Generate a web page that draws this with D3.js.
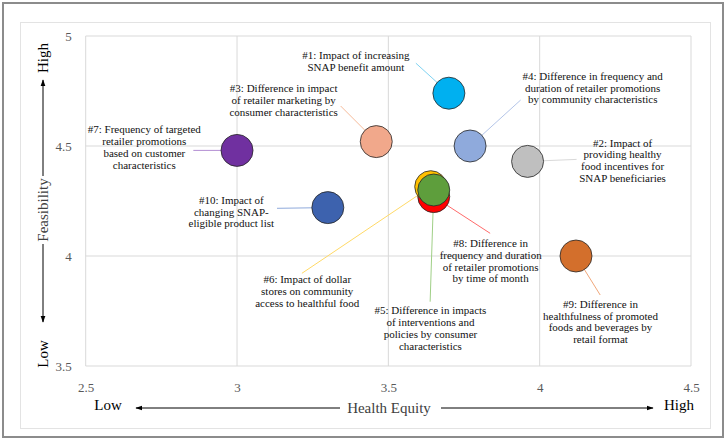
<!DOCTYPE html>
<html><head><meta charset="utf-8">
<script src="https://cdn.jsdelivr.net/npm/d3@7"></script>
<style>
html,body{margin:0;padding:0;background:#fff;}
svg{display:block;}
text{font-family:"Liberation Serif","DejaVu Serif",serif;}
</style></head>
<body>
<svg id="chart" width="727" height="442"></svg>
<script>
// ---- data ----
const ids = ["#1","#2","#3","#4","#5","#6","#7","#8","#9","#10"];
const healthEquity = [3.70, 3.96, 3.46, 3.77, 3.65, 3.64, 3.00, 3.65, 4.12, 3.30];
const feasibility  = [4.74, 4.43, 4.52, 4.50, 4.30, 4.315, 4.48, 4.27, 4.00, 4.22];
const labels = [
  ["#1: Impact of increasing","SNAP benefit amount"],
  ["#2: Impact of","providing healthy","food incentives for","SNAP beneficiaries"],
  ["#3: Difference in impact","of retailer marketing by","consumer characteristics"],
  ["#4: Difference in frequency and","duration of retailer promotions","by community characteristics"],
  ["#5: Difference in impacts","of interventions and","policies by consumer","characteristics"],
  ["#6: Impact of dollar","stores on community","access to healthful food"],
  ["#7: Frequency of targeted","retailer promotions","based on customer","characteristics"],
  ["#8: Difference in","frequency and duration","of retailer promotions","by time of month"],
  ["#9: Difference in","healthfulness of promoted","foods and beverages by","retail format"],
  ["#10: Impact of","changing SNAP-","eligible product list"]
];
const xTicks = [2.5, 3, 3.5, 4, 4.5];
const yTicks = [3.5, 4, 4.5, 5];

// ---- styles / layout ----
const colors = ["#00B0F0","#BFBFBF","#F1A88B","#8FAADC","#5E9E3C","#FFC000","#7030A0","#FF0000","#D36F2C","#3D62AE"];
const lineColors = ["#7fd3f2","#d9d9d9","#f6bb9a","#b4c5e8","#9fcf86","#ffd966","#b38fd3","#ff6b6b","#f0a77a","#8faadc"];
// label layout: [label center dx, first line dy, leader start dx, leader start dy] in px relative to point
const labelLayout = [
  [-93,-38,-33,-30],
  [95,-18.6,49,-2],
  [-92.6,-53.3,-35.6,-35.6],
  [122.6,-70,50.6,-46],
  [-3.3,120.7,-3.6,111.7],
  [-123.5,92.6,-128.8,86.6],
  [-92.7,-21,-43.7,0],
  [56.9,46.7,56.4,36.7],
  [24.5,48,24.2,39],
  [-96.5,-7.6,-50.8,0.7]
];
const drawOrder = [0,1,2,3,6,7,5,4,8,9];

const svg = d3.select("#chart");
// frames
svg.append("rect").attr("x",3).attr("y",3).attr("width",720).attr("height",434)
  .attr("fill","#fff").attr("stroke","#8c8c8c").attr("stroke-width",2);
svg.append("rect").attr("x",20.5).attr("y",22.5).attr("width",690).attr("height",406)
  .attr("fill","#fff").attr("stroke","#e3e3e3").attr("stroke-width",1);

const x = d3.scaleLinear().domain([2.5,4.5]).range([85.7,691]);
const y = d3.scaleLinear().domain([3.5,5]).range([366,36]);

// grid
const g = svg.append("g");
g.selectAll("line.vg").data(xTicks).join("line")
  .attr("x1",d=>x(d)).attr("x2",d=>x(d)).attr("y1",y(3.5)).attr("y2",y(5))
  .attr("stroke","#d9d9d9").attr("stroke-width",1);
g.selectAll("line.hg").data(yTicks).join("line")
  .attr("y1",d=>y(d)).attr("y2",d=>y(d)).attr("x1",x(2.5)).attr("x2",x(4.5))
  .attr("stroke","#d9d9d9").attr("stroke-width",1);

// axes (labels only)
const xAxis = d3.axisBottom(x).tickValues(xTicks).tickSize(0).tickPadding(0).tickFormat(d3.format("~g"));
const xa = svg.append("g").attr("transform",`translate(0,${y(3.5)+17})`).call(xAxis);
xa.select(".domain").remove();
xa.selectAll("text").attr("fill","#595959").style("font-size","13px")
  .style("font-family","'Liberation Serif',serif");
const yAxis = d3.axisLeft(y).tickValues(yTicks).tickSize(0).tickPadding(0).tickFormat(d3.format("~g"));
const ya = svg.append("g").attr("transform",`translate(${x(2.5)-14},0)`).call(yAxis);
ya.select(".domain").remove();
ya.selectAll("text").attr("fill","#595959").style("font-size","13px")
  .style("font-family","'Liberation Serif',serif");

// arrow markers
const defs = svg.append("defs");
defs.append("marker").attr("id","arr").attr("viewBox","0 0 10 10").attr("refX",9).attr("refY",5)
  .attr("markerWidth",7).attr("markerHeight",7).attr("orient","auto-start-reverse")
  .append("path").attr("d","M0,1.5 L10,5 L0,8.5 Z").attr("fill","#000");

// x axis title & arrows
const axY = 408;
svg.append("line").attr("x1",340).attr("x2",136).attr("y1",axY).attr("y2",axY)
  .attr("stroke","#000").attr("stroke-width",1).attr("marker-end","url(#arr)");
svg.append("line").attr("x1",441).attr("x2",653).attr("y1",axY).attr("y2",axY)
  .attr("stroke","#000").attr("stroke-width",1).attr("marker-end","url(#arr)");
svg.append("text").attr("x",389).attr("y",axY+5).attr("text-anchor","middle")
  .attr("fill","#404040").style("font-size","15px").text("Health Equity");
svg.append("text").attr("x",108).attr("y",axY+2).attr("text-anchor","middle")
  .attr("fill","#000").style("font-size","15px").text("Low");
svg.append("text").attr("x",679).attr("y",axY+2).attr("text-anchor","middle")
  .attr("fill","#000").style("font-size","15px").text("High");

// y axis title & arrows
const axX = 43;
svg.append("line").attr("x1",axX).attr("x2",axX).attr("y1",176).attr("y2",80)
  .attr("stroke","#000").attr("stroke-width",1).attr("marker-end","url(#arr)");
svg.append("line").attr("x1",axX).attr("x2",axX).attr("y1",244).attr("y2",322)
  .attr("stroke","#000").attr("stroke-width",1).attr("marker-end","url(#arr)");
svg.append("text").attr("transform",`translate(${axX+5},210) rotate(-90)`).attr("text-anchor","middle")
  .attr("fill","#404040").style("font-size","15px").text("Feasibility");
svg.append("text").attr("transform",`translate(${axX+5},58) rotate(-90)`).attr("text-anchor","middle")
  .attr("fill","#000").style("font-size","15px").text("High");
svg.append("text").attr("transform",`translate(${axX+5},354) rotate(-90)`).attr("text-anchor","middle")
  .attr("fill","#000").style("font-size","15px").text("Low");

// leader lines
const pts = ids.map((id,i)=>({i, px:x(healthEquity[i]), py:y(feasibility[i])}));
svg.append("g").selectAll("line").data(pts).join("line")
  .attr("x1",d=>d.px+labelLayout[d.i][2]).attr("y1",d=>d.py+labelLayout[d.i][3])
  .attr("x2",d=>d.px).attr("y2",d=>d.py)
  .attr("stroke",d=>lineColors[d.i]).attr("stroke-width",1);

// bubbles
svg.append("g").selectAll("circle").data(drawOrder.map(i=>pts[i])).join("circle")
  .attr("cx",d=>d.px).attr("cy",d=>d.py).attr("r",16)
  .attr("fill",d=>colors[d.i]).attr("stroke","#262626").attr("stroke-width",0.8);

// labels
const lg = svg.append("g");
pts.forEach(d=>{
  const L = labelLayout[d.i];
  const t = lg.append("text").attr("text-anchor","middle").attr("fill","#111")
    .style("font-size","11px");
  labels[d.i].forEach((s,k)=>{
    t.append("tspan").attr("x",d.px+L[0]).attr("y",d.py+L[1]+3.7+k*11.8).text(s);
  });
});
</script>
</body></html>
